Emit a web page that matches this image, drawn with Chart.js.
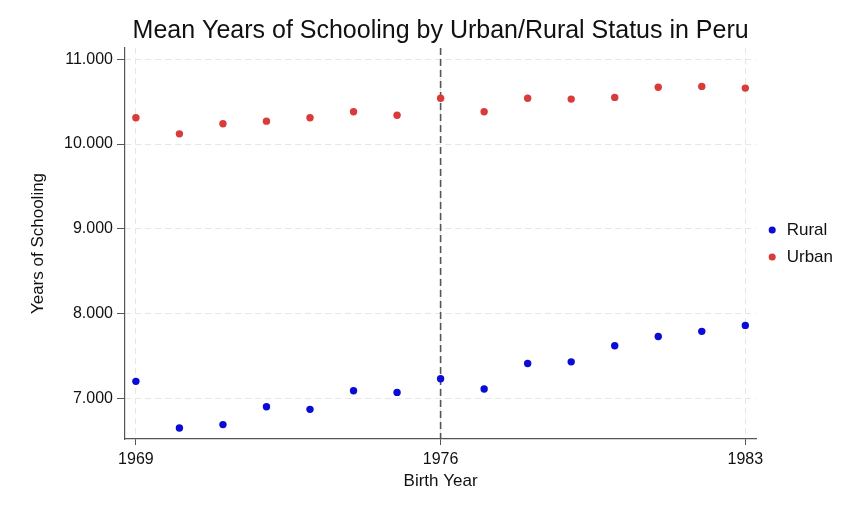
<!DOCTYPE html>
<html>
<head>
<meta charset="utf-8">
<title>Mean Years of Schooling by Urban/Rural Status in Peru</title>
<script src="https://cdn.jsdelivr.net/npm/chart.js@4/dist/chart.umd.min.js"></script>
<style>
    html, body { margin: 0; padding: 0; background: #ffffff; }
    #wrap { width: 864px; height: 512px; }
</style>
</head>
<body>
<div id="wrap"><canvas id="schoolingChart" width="864" height="512"></canvas></div>
<script>
const years = [1969, 1970, 1971, 1972, 1973, 1974, 1975, 1976, 1977, 1978, 1979, 1980, 1981, 1982, 1983];
const rural = [7.20, 6.65, 6.69, 6.90, 6.87, 7.09, 7.07, 7.23, 7.11, 7.41, 7.43, 7.62, 7.73, 7.79, 7.86];
const urban = [10.31, 10.12, 10.24, 10.27, 10.31, 10.38, 10.34, 10.54, 10.38, 10.54, 10.53, 10.55, 10.67, 10.68, 10.66];
const yTicks = [7, 8, 9, 10, 11];
const xTicks = [1969, 1976, 1983];
const cutoffYear = 1976;

const fontFamily = "'Liberation Sans', Arial, Helvetica, sans-serif";
const axisColor = '#555555';
const gridColor = '#e6e6e6';

function toPoints(values) {
    return years.map((year, i) => ({ x: year, y: values[i] }));
}

// dashed vertical line at the cutoff birth year
const cutoffLine = {
    id: 'cutoffLine',
    beforeDatasetsDraw(chart) {
        const { ctx, chartArea, scales } = chart;
        const x = scales.x.getPixelForValue(cutoffYear);
        ctx.save();
        ctx.strokeStyle = '#555555';
        ctx.lineWidth = 1.6;
        ctx.setLineDash([7, 4]);
        ctx.beginPath();
        ctx.moveTo(x, chartArea.top);
        ctx.lineTo(x, chartArea.bottom);
        ctx.stroke();
        ctx.restore();
    }
};

const ctx = document.getElementById('schoolingChart').getContext('2d');
const schoolingChart = new Chart(ctx, {
    type: 'scatter',
    data: {
        datasets: [
            {
                label: 'Rural',
                data: toPoints(rural),
                backgroundColor: '#0b0bd6',
                borderWidth: 0,
                pointRadius: 3.7,
                pointHoverRadius: 3.7
            },
            {
                label: 'Urban',
                data: toPoints(urban),
                backgroundColor: '#d93b3b',
                borderWidth: 0,
                pointRadius: 3.7,
                pointHoverRadius: 3.7
            }
        ]
    },
    options: {
        responsive: false,
        animation: false,
        devicePixelRatio: 1,
        layout: {
            padding: { top: 0, left: 0, right: 21, bottom: 0 }
        },
        plugins: {
            title: {
                display: true,
                text: 'Mean Years of Schooling by Urban/Rural Status in Peru',
                fullSize: false,
                color: '#111111',
                font: { family: fontFamily, size: 25, weight: 'normal' },
                padding: { top: 16, bottom: 2 }
            },
            legend: {
                display: true,
                position: 'right',
                fullSize: false,
                labels: {
                    usePointStyle: true,
                    pointStyle: 'circle',
                    boxWidth: 12,
                    boxHeight: 5,
                    padding: 10,
                    color: '#111111',
                    font: { family: fontFamily, size: 17 }
                }
            },
            tooltip: { enabled: false }
        },
        scales: {
            x: {
                type: 'linear',
                min: 1968.75,
                max: 1983.25,
                afterBuildTicks: scale => {
                    scale.ticks = xTicks.map(v => ({ value: v }));
                },
                afterFit: scale => {
                    scale.height = 73;
                },
                ticks: {
                    color: '#111111',
                    font: { family: fontFamily, size: 16 },
                    padding: 5,
                    maxRotation: 0,
                    callback: v => String(v)
                },
                grid: {
                    color: gridColor,
                    lineWidth: 1,
                    drawTicks: true,
                    tickLength: 6,
                    tickColor: axisColor,
                    tickWidth: 1
                },
                border: {
                    display: true,
                    color: axisColor,
                    width: 1.2,
                    dash: [6, 4]
                },
                title: {
                    display: true,
                    text: 'Birth Year',
                    color: '#111111',
                    font: { family: fontFamily, size: 17 },
                    padding: { top: 0, bottom: 20 }
                }
            },
            y: {
                type: 'linear',
                min: 6.52,
                max: 11.133,
                afterBuildTicks: scale => {
                    scale.ticks = yTicks.map(v => ({ value: v }));
                },
                afterFit: scale => {
                    scale.width = 125;
                },
                ticks: {
                    color: '#111111',
                    font: { family: fontFamily, size: 16 },
                    padding: 4,
                    callback: v => v.toFixed(3)
                },
                grid: {
                    color: gridColor,
                    lineWidth: 1,
                    drawTicks: true,
                    tickLength: 8,
                    tickColor: axisColor,
                    tickWidth: 1
                },
                border: {
                    display: true,
                    color: axisColor,
                    width: 1.2,
                    dash: [6, 4]
                },
                title: {
                    display: true,
                    text: 'Years of Schooling',
                    color: '#111111',
                    font: { family: fontFamily, size: 17 },
                    padding: { top: 28, bottom: 0 }
                }
            }
        }
    },
    plugins: [cutoffLine]
});
</script>
</body>
</html>
